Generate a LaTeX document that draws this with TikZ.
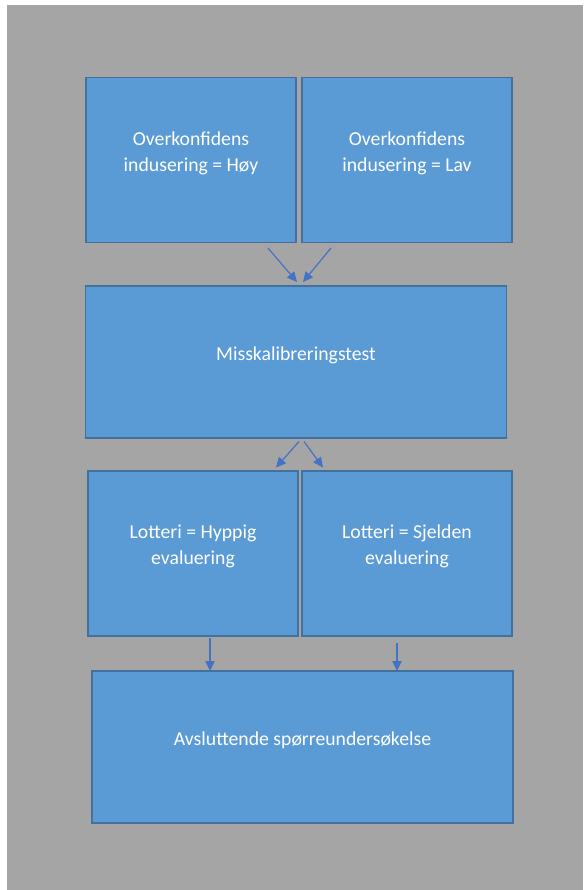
\documentclass[tikz,border=0pt]{standalone}
\usepackage{fontspec}
\setmainfont{Carlito}
\usetikzlibrary{arrows.meta,calc}

\definecolor{bakgrunn}{RGB}{165,165,165}
\definecolor{boksfyll}{RGB}{91,155,213}
\definecolor{boksrand}{RGB}{65,113,156}
\definecolor{pilfarge}{RGB}{68,114,196}

\tikzset{
	every picture/.style={line width=0.75pt},
	boks/.style={draw=boksrand, fill=boksfyll, line width=1.1pt, inner sep=0pt, outer sep=0pt,
		minimum width=157.5pt, minimum height=123.75pt},
	bredboks/.style={boks, minimum width=315.75pt, minimum height=114pt},
	tekst/.style={text=white, align=center, yshift=5.25pt, inner sep=0pt,
		font=\fontsize{14.8}{19.5}\selectfont},
	pil/.style={draw=pilfarge, line width=0.9pt, -{Triangle[length=7.5pt,width=7pt]}}
}

\begin{document}
\begin{tikzpicture}[x=0.75pt,y=0.75pt,yscale=-1,xscale=1]
	\useasboundingbox (0,0) rectangle (583,890);
	% bakgrunn
	\fill[bakgrunn] (7,5) rectangle (583,890);

	% rad 1
	\node[boks, label={[tekst]center:{Overkonfidens\\indusering = Høy}}] (hoy) at (191,160) {};
	\node[boks, label={[tekst]center:{Overkonfidens\\indusering = Lav}}] (lav) at (407,160) {};
	% rad 2
	\node[bredboks, label={[tekst]center:{Misskalibreringstest}}] (test) at (296,362) {};
	% rad 3
	\node[boks, label={[tekst]center:{Lotteri = Hyppig\\evaluering}}] (hyppig) at (193,553.5) {};
	\node[boks, label={[tekst]center:{Lotteri = Sjelden\\evaluering}}] (sjelden) at (407,553.5) {};
	% rad 4
	\node[bredboks, label={[tekst]center:{Avsluttende spørreundersøkelse}}] (slutt) at (302.5,747) {};

	% piler
	\coordinate (p1) at ($(hoy.south east)+(-28,5.5)$);
	\coordinate (p2) at ($(lav.south west)+(29,5.5)$);
	\coordinate (p3) at ($(test.south)+(3,3.5)$);
	\coordinate (p4) at ($(test.south)+(8,3.5)$);
	\coordinate (p5) at ($(hyppig.south)+(17,2)$);
	\coordinate (p6) at ($(sjelden.south)+(-10,6.5)$);

	\draw[pil] (p1) -- ($(test.north)+(1,-4)$);
	\draw[pil] (p2) -- ($(test.north)+(7,-4)$);
	\draw[pil] (p3) -- ($(hyppig.north)+(83,-3.5)$);
	\draw[pil] (p4) -- ($(sjelden.north)+(-84,-3.5)$);
	\draw[pil] (p5) -- (p5 |- slutt.north);
	\draw[pil] (p6) -- (p6 |- slutt.north);

\end{tikzpicture}
\end{document}
